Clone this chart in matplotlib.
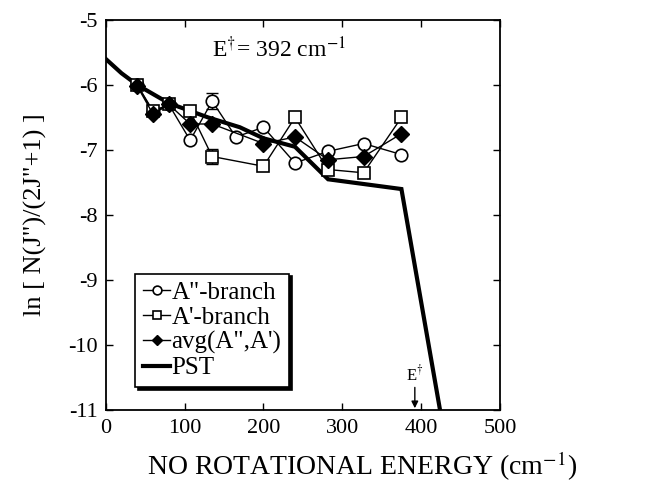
import numpy as np
import matplotlib
matplotlib.use("Agg")
import matplotlib.pyplot as plt

plt.rcParams["font.family"] = ["Liberation Serif", "DejaVu Serif"]
plt.rcParams["mathtext.fontset"] = "stix"
plt.rcParams["axes.unicode_minus"] = False

# A''-branch (open circles)
x_a2 = [40, 60, 80, 107, 135, 165, 200, 240, 282, 327, 375]
y_a2 = [-6.0, -6.42, -6.3, -6.85, -6.25, -6.8, -6.65, -7.2, -7.02, -6.9, -7.07]
# A'-branch (open squares)
x_a1 = [40, 60, 80, 107, 135, 200, 240, 282, 327, 375]
y_a1 = [-6.0, -6.4, -6.3, -6.4, -7.1, -7.25, -6.5, -7.3, -7.35, -6.5]
# average (filled diamonds)
x_avg = [40, 60, 80, 107, 135, 200, 240, 282, 327, 375]
y_avg = [-6.02, -6.45, -6.3, -6.6, -6.6, -6.9, -6.8, -7.15, -7.1, -6.75]
# error bars shown at 135
err_x = [135, 135]
err_y = [-6.25, -7.1]
err_v = [0.12, 0.12]
# phase space theory curve
x_pst = [0, 20, 40, 80, 130, 170, 200, 240, 282, 375, 424]
y_pst = [-5.6, -5.82, -6.0, -6.28, -6.5, -6.65, -6.82, -6.95, -7.45, -7.6, -11.0]

E_dag = 392

fig = plt.figure(figsize=(6.57, 4.86), dpi=100)
ax = fig.add_axes([0.161, 0.156, 0.600, 0.803])

ax.plot(x_pst, y_pst, color="black", lw=3, solid_joinstyle="miter", zorder=2, label="PST")
ax.plot(x_a2, y_a2, "-o", color="black", mfc="white", mec="black", ms=9, lw=1, mew=1.2,
        zorder=3, label="A\"-branch")
ax.plot(x_a1, y_a1, "-s", color="black", mfc="white", mec="black", ms=9, lw=1, mew=1.2,
        zorder=3, label="A'-branch")
ax.plot(x_avg, y_avg, "-D", color="black", mfc="black", ms=8, lw=1, zorder=4,
        label="avg(A\",A')")
ax.errorbar(err_x, err_y, yerr=err_v, fmt="none", ecolor="black", elinewidth=1,
            capsize=4, zorder=2)

ax.set_xlim(0, 500)
ax.set_ylim(-11, -5)
ax.set_xticks([0, 100, 200, 300, 400, 500])
ax.set_yticks([-11, -10, -9, -8, -7, -6, -5])
ax.tick_params(direction="in", top=True, right=True, labelsize=16, length=5, width=1, pad=6)
for s in ax.spines.values():
    s.set_linewidth(1.3)

ax.set_xlabel("NO ROTATIONAL ENERGY (cm$^{-1}$)", fontsize=20)
ax.xaxis.set_label_coords(0.65, -0.1)
ax.set_ylabel("ln [ N(J\")/(2J\"+1) ]", fontsize=19)
ax.yaxis.set_label_coords(-0.15, 0.5)

ax.text(220, -5.45, "E$^{\\dagger}$= 392 cm$^{-1}$", fontsize=17, ha="center", va="center")

ax.annotate("", xy=(E_dag, -10.97), xytext=(E_dag, -10.65),
            arrowprops=dict(arrowstyle="-|>", color="black", lw=1, mutation_scale=10,
                            shrinkA=0, shrinkB=0))
ax.text(E_dag, -10.45, "E$^{\\dagger}$", fontsize=12, ha="center", va="center")

handles, labels = ax.get_legend_handles_labels()
order = [1, 2, 3, 0]
leg = ax.legend([handles[i] for i in order], [labels[i] for i in order],
                loc="lower left", bbox_to_anchor=(0.075, 0.06), fontsize=18,
                handlelength=1.1, handletextpad=0.05, borderpad=0.3, labelspacing=0.1,
                borderaxespad=0, fancybox=False, edgecolor="black", framealpha=1,
                markerscale=0.7, shadow={"color": "black", "alpha": 1})
leg.get_frame().set_linewidth(1.2)

fig.savefig("out.png", dpi=100)
